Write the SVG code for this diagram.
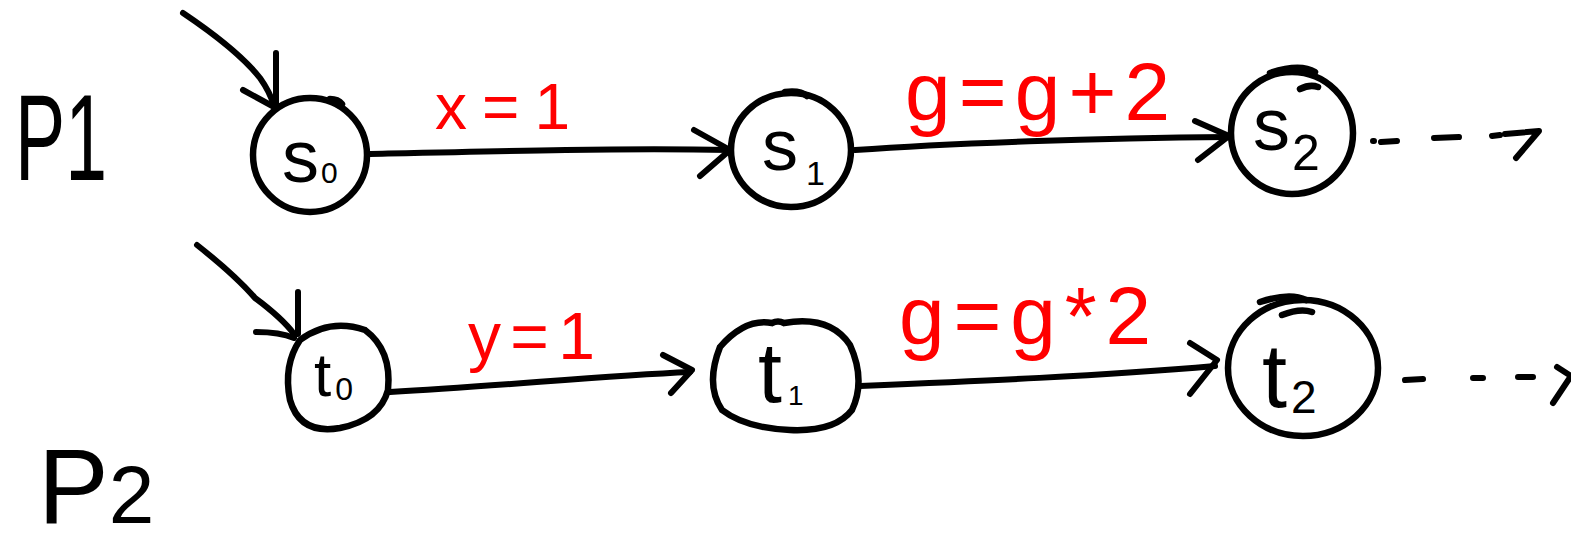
<svg xmlns="http://www.w3.org/2000/svg" width="1571" height="546" viewBox="0 0 1571 546">
<style>
.ln{fill:none;stroke:#000;stroke-width:6;stroke-linecap:round;stroke-linejoin:round}
.node{fill:none;stroke:#000;stroke-width:6.5;stroke-linecap:round}
.lbl{font-family:"Liberation Sans",Arial,sans-serif;fill:#000}
.red{font-family:"Liberation Sans",Arial,sans-serif;fill:#ff0000}
</style>
<rect width="1571" height="546" fill="#fff"/>
<g id="labels">
<text class="lbl" x="15" y="180" font-size="122" textLength="92" lengthAdjust="spacingAndGlyphs">P1</text>
<text class="lbl" x="38" y="523" font-size="106"><tspan>P</tspan><tspan font-size="82" dx="0">2</tspan></text>
</g>
<g id="connectors">
<path class="ln" d="M183,13 Q238,50 260,78 Q270,92 274,106"/>
<path class="ln" d="M276,53 L276,108 L243,90"/>
<path class="ln" d="M370,154 C500,151 620,148 730,150"/>
<path class="ln" d="M694,130 L730,150 L700,176"/>
<path class="ln" d="M855,150 C950,143 1100,138 1228,137"/>
<path class="ln" d="M1195,121 L1229,136 L1198,160"/>
<path class="ln" d="M1373,141 L1374,141 M1381,142 L1397,141 M1434,138 L1459,137 M1492,136 L1500,135"/>
<path class="ln" d="M1505,134 L1539,131 L1516,158"/>
<path class="ln" d="M197,245 Q235,275 255,298 Q282,318 294,334"/>
<path class="ln" d="M298,292 L298,334 M256,332 Q280,332 294,338"/>
<path class="ln" d="M390,392 C500,386 600,376 690,372"/>
<path class="ln" d="M663,355 L692,370 L671,393"/>
<path class="ln" d="M860,386 C980,381 1100,376 1215,366"/>
<path class="ln" d="M1190,343 L1217,360 L1190,394"/>
<path class="ln" d="M1405,380 L1423,379 M1473,378 L1483,378 M1518,377 L1533,377"/>
<path class="ln" d="M1557,367 L1571,376 L1553,403"/>
</g>
<g id="edge-labels">
<text class="red" x="435" y="129" font-size="64" textLength="135">x = 1</text>
<text class="red" x="905" y="120" font-size="82" textLength="265">g = g + 2</text>
<text class="red" x="468" y="359" font-size="66" textLength="127">y = 1</text>
<text class="red" x="899" y="344" font-size="82" textLength="252">g = g * 2</text>
</g>
<g id="s0">
<ellipse class="node" cx="310" cy="155" rx="57" ry="57"/>
<path class="node" d="M330,99 Q338,99 342,104"/>
<text class="lbl" x="282" y="182" font-size="74">s<tspan font-size="30" dx="2" dy="1">0</tspan></text>
</g>
<g id="s1">
<ellipse class="node" cx="791" cy="150" rx="60" ry="57"/>
<path class="node" d="M785,92 Q800,90 807,96"/>
<text class="lbl" x="762" y="170" font-size="72">s<tspan font-size="34" dx="8" dy="15">1</tspan></text>
</g>
<g id="s2">
<ellipse class="node" cx="1292" cy="133" rx="61" ry="61"/>
<path class="node" d="M1270,73 Q1300,63 1315,72 M1300,89 Q1310,84 1318,87"/>
<text class="lbl" x="1253" y="150" font-size="74">s<tspan font-size="50" dx="2" dy="20">2</tspan></text>
</g>
<g id="t0">
<path class="node" d="M300,340 Q330,318 365,330 Q392,350 388,390 Q380,420 340,428 Q300,435 290,400 Q283,365 300,340 Z"/>
<text class="lbl" x="314" y="396" font-size="62">t<tspan font-size="32" dx="4" dy="4">0</tspan></text>
</g>
<g id="t1">
<path class="node" d="M720,347 Q745,318 772,323 Q778,320 784,323 Q830,315 850,345 Q866,380 852,410 Q835,432 790,430 Q745,428 722,410 Q705,385 720,347 Z"/>
<text class="lbl" x="758" y="402" font-size="86">t<tspan font-size="28" dx="6" dy="3">1</tspan></text>
</g>
<g id="t2">
<ellipse class="node" cx="1303" cy="368" rx="75" ry="68"/>
<path class="node" d="M1260,302 Q1290,292 1306,300 M1282,315 Q1300,308 1312,312"/>
<text class="lbl" x="1262" y="407" font-size="90">t<tspan font-size="46" dx="4" dy="6">2</tspan></text>
</g>
</svg>
